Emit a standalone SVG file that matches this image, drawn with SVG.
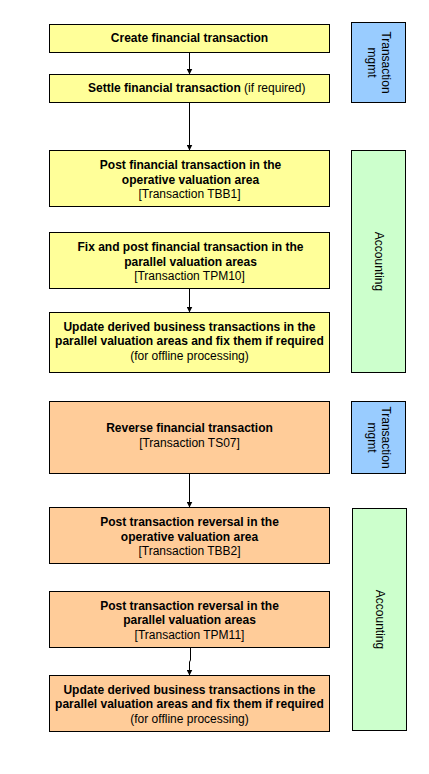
<svg xmlns="http://www.w3.org/2000/svg" width="429" height="774" viewBox="0 0 429 774">
<style>
  .box{stroke:#000;stroke-width:1}
  .y{fill:#FFFF99}
  .o{fill:#FFCC99}
  .b{fill:#99CCFF}
  .g{fill:#CCFFCC}
  text{font-family:"Liberation Sans",Arial,sans-serif;font-size:12px;fill:#000}
  .t{text-anchor:middle}
  .bd{font-weight:bold}
  .conn{stroke:#000;stroke-width:1;fill:none;marker-end:url(#ah)}
</style>
<defs>
  <marker id="ah" markerUnits="userSpaceOnUse" markerWidth="6" markerHeight="6" refX="6" refY="3" orient="auto">
    <path d="M0,0 L6,3 L0,6 z" fill="#000"/>
  </marker>
</defs>
<rect width="429" height="774" fill="#fff"/>

<g id="connectors">
  <line class="conn" x1="189.5" y1="52.5" x2="189.5" y2="74.5"/>
  <line class="conn" x1="189.5" y1="102.5" x2="189.5" y2="150.5"/>
  <line class="conn" x1="189.5" y1="288.5" x2="189.5" y2="312.5"/>
  <line class="conn" x1="189.5" y1="473.5" x2="189.5" y2="507.5"/>
  <path class="conn" d="M190.5,647.5 L190.5,660 L189.5,662 L189.5,675.5"/>
</g>

<g id="create">
  <rect class="box y" x="49.5" y="24.5" width="280" height="28"/>
  <text class="t bd" x="189.5" y="42">Create financial transaction</text>
</g>
<g id="settle">
  <rect class="box y" x="49.5" y="74.5" width="280" height="28"/>
  <text x="88" y="92"><tspan class="bd">Settle financial transaction </tspan><tspan>(if required)</tspan></text>
</g>
<g id="post-operative">
  <rect class="box y" x="49.5" y="150.5" width="280" height="56"/>
  <text class="t bd" x="190.5" y="169">Post financial transaction in the</text>
  <text class="t bd" x="190.5" y="183.5">operative valuation area</text>
  <text class="t" x="189.5" y="198">[Transaction TBB1]</text>
</g>
<g id="fix-post-parallel">
  <rect class="box y" x="49.5" y="232.5" width="280" height="56"/>
  <text class="t bd" x="190.5" y="251">Fix and post financial transaction in the</text>
  <text class="t bd" x="190.5" y="265.5">parallel valuation areas</text>
  <text class="t" x="189.5" y="280">[Transaction TPM10]</text>
</g>
<g id="update-derived-1">
  <rect class="box y" x="49.5" y="312.5" width="280" height="60"/>
  <text class="t bd" x="189.5" y="330.5">Update derived business transactions in the</text>
  <text class="t bd" x="189.5" y="345">parallel valuation areas and fix them if required</text>
  <text class="t" x="189.5" y="360">(for offline processing)</text>
</g>
<g id="tm-1">
  <rect class="box b" x="351.5" y="22.5" width="54" height="80"/>
  <text class="t" transform="translate(378.5,62.5) rotate(90)"><tspan x="0" y="-3">Transaction</tspan><tspan x="0" y="11">mgmt</tspan></text>
</g>
<g id="acc-1">
  <rect class="box g" x="351.5" y="150.5" width="54" height="222"/>
  <text class="t" transform="translate(378.5,261.5) rotate(90)" x="0" y="4">Accounting</text>
</g>

<g id="reverse">
  <rect class="box o" x="49.5" y="401.5" width="280" height="72"/>
  <text class="t bd" x="189.5" y="432">Reverse financial transaction</text>
  <text class="t" x="189.5" y="447">[Transaction TS07]</text>
</g>
<g id="reversal-operative">
  <rect class="box o" x="49.5" y="507.5" width="280" height="56"/>
  <text class="t bd" x="189.5" y="526">Post transaction reversal in the</text>
  <text class="t bd" x="189.5" y="540.5">operative valuation area</text>
  <text class="t" x="189.5" y="555">[Transaction TBB2]</text>
</g>
<g id="reversal-parallel">
  <rect class="box o" x="49.5" y="591.5" width="280" height="56"/>
  <text class="t bd" x="189.5" y="609.5">Post transaction reversal in the</text>
  <text class="t bd" x="189.5" y="624">parallel valuation areas</text>
  <text class="t" x="189.5" y="638.5">[Transaction TPM11]</text>
</g>
<g id="update-derived-2">
  <rect class="box o" x="49.5" y="675.5" width="280" height="56"/>
  <text class="t bd" x="189.5" y="693.5">Update derived business transactions in the</text>
  <text class="t bd" x="189.5" y="708">parallel valuation areas and fix them if required</text>
  <text class="t" x="189.5" y="723">(for offline processing)</text>
</g>
<g id="tm-2">
  <rect class="box b" x="351.5" y="401.5" width="54" height="72"/>
  <text class="t" transform="translate(378.5,437.5) rotate(90)"><tspan x="0" y="-3">Transaction</tspan><tspan x="0" y="11">mgmt</tspan></text>
</g>
<g id="acc-2">
  <rect class="box g" x="352.5" y="508.5" width="54" height="222"/>
  <text class="t" transform="translate(379.5,619.5) rotate(90)" x="0" y="4">Accounting</text>
</g>
</svg>
